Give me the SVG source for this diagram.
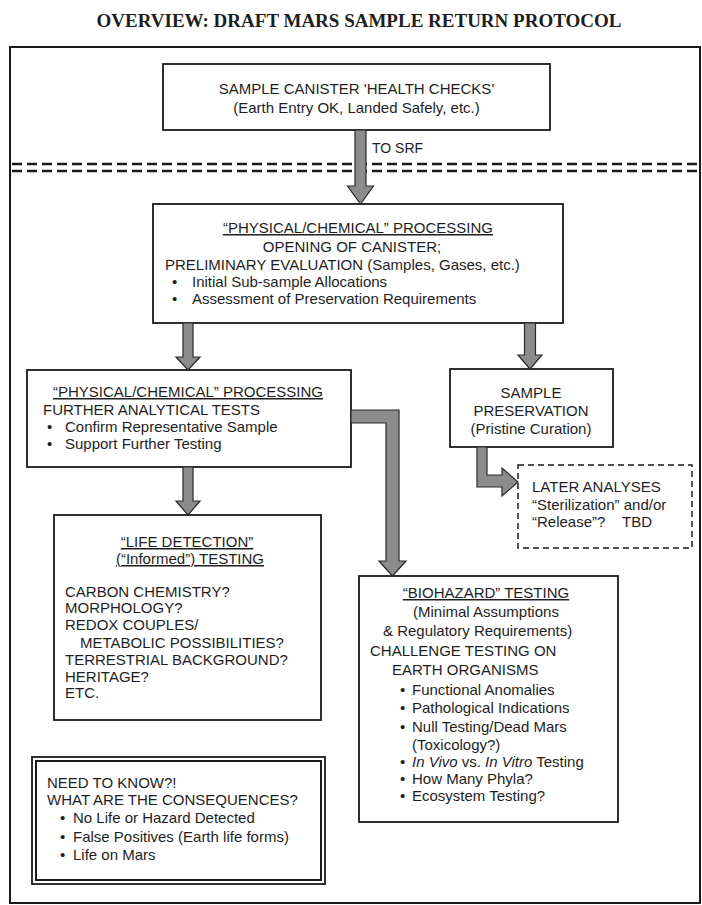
<svg xmlns="http://www.w3.org/2000/svg" width="702" height="905" viewBox="0 0 702 905">
<style>
.t{font-family:"Liberation Sans",Arial,sans-serif;font-size:15px;fill:#1e1e1e}
.c{text-anchor:middle}
.u{text-decoration:underline}
.title{font-family:"Liberation Serif","Times New Roman",serif;font-size:19px;font-weight:bold;fill:#1e1e1e;text-anchor:middle}
.box{fill:#fff;stroke:#1a1a1a;stroke-width:1.8}
.dbox{fill:#fff;stroke:#1a1a1a;stroke-width:1.5;stroke-dasharray:6 4}
.arr{fill:#8c8c8c;stroke:#2a2a2a;stroke-width:1.2;stroke-linejoin:miter}
.sep{stroke:#1a1a1a;stroke-width:2.5;stroke-dasharray:10 5}
</style>
<rect width="702" height="905" fill="#fff"/>
<text class="title" x="359" y="27">OVERVIEW: DRAFT MARS SAMPLE RETURN PROTOCOL</text>
<rect x="10" y="47" width="690" height="856" fill="none" stroke="#1a1a1a" stroke-width="2"/>
<g id="srf-boundary">
<line class="sep" x1="12" y1="164" x2="700" y2="164"/>
<line class="sep" x1="12" y1="171" x2="700" y2="171"/>
<text class="t" x="372" y="153" style="font-size:14px">TO SRF</text>
</g>
<g id="health-checks">
<rect class="box" x="163" y="64" width="387" height="66"/>
<text class="t c" x="356.5" y="94">SAMPLE CANISTER 'HEALTH CHECKS'</text>
<text class="t c" x="356.5" y="113">(Earth Entry OK, Landed Safely, etc.)</text>
</g>
<g id="opening">
<rect class="box" x="153" y="204" width="410" height="119"/>
<text class="t c u" x="358" y="233">“PHYSICAL/CHEMICAL” PROCESSING</text>
<text class="t c" x="352" y="252">OPENING OF CANISTER;</text>
<text class="t" x="165" y="270">PRELIMINARY EVALUATION (Samples, Gases, etc.)</text>
<text class="t" x="172" y="287">•</text><text class="t" x="192" y="287">Initial Sub-sample Allocations</text>
<text class="t" x="172" y="304">•</text><text class="t" x="192" y="304">Assessment of Preservation Requirements</text>
</g>
<g id="further-tests">
<rect class="box" x="27" y="370" width="324" height="97"/>
<text class="t c u" x="188" y="397">“PHYSICAL/CHEMICAL” PROCESSING</text>
<text class="t" x="43" y="415">FURTHER ANALYTICAL TESTS</text>
<text class="t" x="47" y="432">•</text><text class="t" x="65" y="432">Confirm Representative Sample</text>
<text class="t" x="47" y="449">•</text><text class="t" x="65" y="449">Support Further Testing</text>
</g>
<g id="preservation">
<rect class="box" x="450" y="369" width="163" height="78"/>
<text class="t c" x="531" y="398">SAMPLE</text>
<text class="t c" x="531" y="416">PRESERVATION</text>
<text class="t c" x="531" y="434">(Pristine Curation)</text>
</g>
<g id="later-analyses">
<rect class="dbox" x="518" y="465" width="174" height="83"/>
<text class="t" x="532" y="492">LATER ANALYSES</text>
<text class="t" x="532" y="510">“Sterilization” and/or</text>
<text class="t" x="532" y="527">“Release”?<tspan x="622">TBD</tspan></text>
</g>
<g id="life-detection">
<rect class="box" x="54" y="515" width="267" height="205"/>
<text class="t c u" x="187" y="547">“LIFE DETECTION”</text>
<text class="t c u" x="190" y="564">(“Informed”) TESTING</text>
<text class="t" x="65" y="597">CARBON CHEMISTRY?</text>
<text class="t" x="65" y="613">MORPHOLOGY?</text>
<text class="t" x="65" y="630">REDOX COUPLES/</text>
<text class="t" x="80" y="648">METABOLIC POSSIBILITIES?</text>
<text class="t" x="65" y="665">TERRESTRIAL BACKGROUND?</text>
<text class="t" x="65" y="682">HERITAGE?</text>
<text class="t" x="65" y="698">ETC.</text>
</g>
<g id="biohazard">
<rect class="box" x="359" y="576" width="259" height="246"/>
<text class="t c u" x="486" y="598">“BIOHAZARD” TESTING</text>
<text class="t" x="413" y="617">(Minimal Assumptions</text>
<text class="t" x="383" y="636">&amp; Regulatory Requirements)</text>
<text class="t" x="370" y="656">CHALLENGE TESTING ON</text>
<text class="t" x="392" y="675">EARTH ORGANISMS</text>
<text class="t" x="400" y="695">•</text><text class="t" x="412" y="695">Functional Anomalies</text>
<text class="t" x="400" y="713">•</text><text class="t" x="412" y="713">Pathological Indications</text>
<text class="t" x="400" y="732">•</text><text class="t" x="412" y="732">Null Testing/Dead Mars</text>
<text class="t" x="412" y="750">(Toxicology?)</text>
<text class="t" x="400" y="767">•</text><text class="t" x="412" y="767"><tspan font-style="italic">In Vivo</tspan> vs. <tspan font-style="italic">In Vitro</tspan> Testing</text>
<text class="t" x="400" y="784">•</text><text class="t" x="412" y="784">How Many Phyla?</text>
<text class="t" x="400" y="801">•</text><text class="t" x="412" y="801">Ecosystem Testing?</text>
</g>
<g id="need-to-know">
<rect class="box" x="32" y="757" width="293" height="127" stroke-width="1.5"/>
<rect x="36" y="761" width="285" height="119" fill="none" stroke="#1a1a1a" stroke-width="2"/>
<text class="t" x="47" y="788">NEED TO KNOW?!</text>
<text class="t" x="47" y="805">WHAT ARE THE CONSEQUENCES?</text>
<text class="t" x="60" y="823">•</text><text class="t" x="73" y="823">No Life or Hazard Detected</text>
<text class="t" x="60" y="842">•</text><text class="t" x="73" y="842">False Positives (Earth life forms)</text>
<text class="t" x="60" y="860">•</text><text class="t" x="73" y="860">Life on Mars</text>
</g>
<g id="connectors">
<polygon class="arr" points="355,130 366,130 366,186 373.5,186 360.5,204 347.5,186 355,186"/>
<polygon class="arr" points="183,323 193,323 193,357 200,357 188,370 176,357 183,357"/>
<polygon class="arr" points="524.5,323 535.5,323 535.5,355 542,355 530,369 518,355 524.5,355"/>
<polygon class="arr" points="183,467 193,467 193,501 200,501 188,515 176,501 183,501"/>
<polygon class="arr" points="351,410 399,410 399,561 406,561 392.5,576 379,561 386,561 386,423 351,423"/>
<polygon class="arr" points="477,447 487,447 487,475 502,475 502,468 518,482 502,496 502,487 477,487"/>
</g>
</svg>
